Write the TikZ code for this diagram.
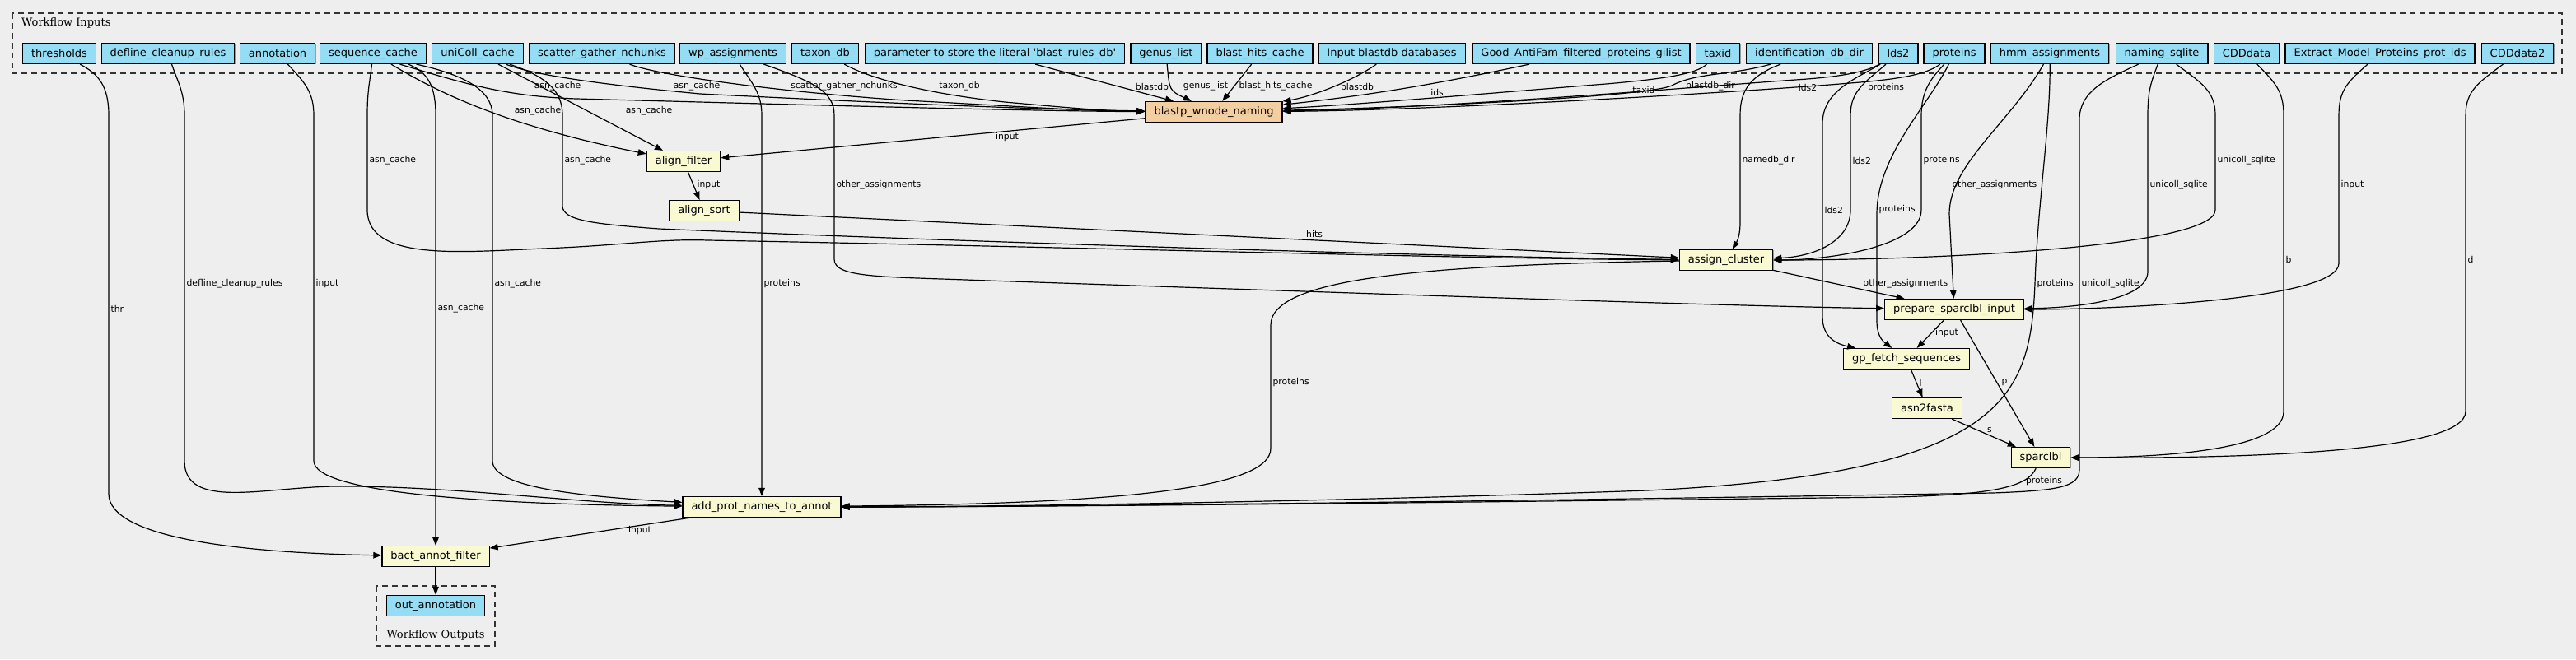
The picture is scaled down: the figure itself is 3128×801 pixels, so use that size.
\documentclass[tikz,border=0pt]{standalone}
\usepackage{fontspec}
\setmainfont{DejaVu Sans}
\newfontfamily\clusterfont{DejaVu Serif}
\usetikzlibrary{arrows.meta,shadows}

\definecolor{inputblue}{HTML}{94DDF4}
\definecolor{stepyellow}{HTML}{FAFAD2}
\definecolor{subworkflow}{HTML}{F3CEA1}
\definecolor{canvas}{HTML}{EEEEEE}

\tikzset{
  box/.style={draw, line width=1.2pt, minimum height=25pt, inner xsep=10.5pt, inner ysep=2pt,
    font=\fontsize{13}{15}\selectfont,
    drop shadow={shadow xshift=0.9pt, shadow yshift=-0.9pt, fill=black!40, opacity=1}},
  inp/.style={box, fill=inputblue},
  stp/.style={box, fill=stepyellow},
  sub/.style={box, fill=subworkflow},
  edge/.style={line width=1.2pt, -{Triangle[length=10pt,width=7.5pt]}},
  lbl/.style={font=\fontsize{10.8}{12}\selectfont, inner sep=1pt},
  lblw/.style={lbl, anchor=west},
  cluster/.style={draw=black!80, line width=1.2pt, dash pattern=on 7pt off 5pt},
  clusterlbl/.style={font=\clusterfont\fontsize{13}{15}\selectfont, inner sep=0pt}
}

\begin{document}
\begin{tikzpicture}[x=1pt, y=1pt]
  \fill[canvas] (0,0) rectangle (3128,-801);
  \useasboundingbox (0,0) rectangle (3128,-801);

  % clusters
  \draw[cluster] (15,-16) rectangle (3111,-89);
  \node[clusterlbl, anchor=west] (inlbl) at (26,-28) {Workflow Inputs};
  \draw[cluster] (457,-712) rectangle (601,-785);
  \node[clusterlbl] (outlbl) at (529,-772) {Workflow Outputs};

  % workflow inputs
  \node[inp] (thr) at (72,-65) {thresholds};
  \node[inp] (defl) at (204,-65) {defline\_cleanup\_rules};
  \node[inp] (annot) at (337,-65) {annotation};
  \node[inp] (seqc) at (453,-65) {sequence\_cache};
  \node[inp] (ucoll) at (580,-65) {uniColl\_cache};
  \node[inp] (sgn) at (731,-65) {scatter\_gather\_nchunks};
  \node[inp] (wpa) at (890,-65) {wp\_assignments};
  \node[inp] (taxdb) at (1002,-65) {taxon\_db};
  \node[inp] (prm) at (1208,-65) {parameter to store the literal \textquotesingle blast\_rules\_db\textquotesingle};
  \node[inp] (genus) at (1416,-65) {genus\_list};
  \node[inp] (bhc) at (1530,-65) {blast\_hits\_cache};
  \node[inp] (ibd) at (1690,-65) {Input blastdb databases};
  \node[inp] (goodaf) at (1920,-65) {Good\_AntiFam\_filtered\_proteins\_gilist};
  \node[inp] (taxid) at (2086,-65) {taxid};
  \node[inp] (iddb) at (2197,-65) {identification\_db\_dir};
  \node[inp] (lds) at (2305,-65) {lds2};
  \node[inp] (prot) at (2373,-65) {proteins};
  \node[inp] (hmm) at (2489,-65) {hmm\_assignments};
  \node[inp] (nsql) at (2625,-65) {naming\_sqlite};
  \node[inp] (cdd) at (2728,-65) {CDDdata};
  \node[inp] (emp) at (2890,-65) {Extract\_Model\_Proteins\_prot\_ids};
  \node[inp] (cdd2) at (3057,-65) {CDDdata2};

  % steps
  \node[sub] (blastp) at (1474,-136) {blastp\_wnode\_naming};
  \node[stp] (afilt) at (830,-196) {align\_filter};
  \node[stp] (asort) at (855,-256) {align\_sort};
  \node[stp] (acl) at (2096,-316) {assign\_cluster};
  \node[stp] (prep) at (2373,-376) {prepare\_sparclbl\_input};
  \node[stp] (gpf) at (2315,-436) {gp\_fetch\_sequences};
  \node[stp] (a2f) at (2340,-496) {asn2fasta};
  \node[stp] (spl) at (2478,-556) {sparclbl};
  \node[stp] (apn) at (925,-616) {add\_prot\_names\_to\_annot};
  \node[stp] (baf) at (529,-676) {bact\_annot\_filter};

  % workflow output
  \node[inp] (outann) at (529,-736) {out\_annotation};

  % into blastp_wnode_naming
  \draw[edge] (seqc.-22) .. controls (560,-100) and (610,-117) .. (700,-120) .. controls (1000,-128) and (1250,-135) .. (blastp) node[lbl] at (677,-105) {asn\_cache};
  \draw[edge] (ucoll) .. controls (640,-88) and (700,-100) .. (850,-114) .. controls (1050,-124) and (1250,-133) .. (blastp) node[lbl] at (846,-105) {asn\_cache};
  \draw[edge] (sgn) .. controls (800,-92) and (950,-112) .. (1100,-122) .. controls (1250,-130) and (1320,-135) .. (blastp) node[lbl] at (1025,-105) {scatter\_gather\_nchunks};
  \draw[edge] (taxdb) .. controls (1050,-92) and (1110,-112) .. (1220,-124) .. controls (1300,-131) and (1340,-135) .. (blastp) node[lbl] at (1165,-105) {taxon\_db};
  \draw[edge] (prm) -- (blastp) node[lbl] at (1399,-105) {blastdb};
  \draw[edge] (genus) .. controls (1420,-110) .. (blastp) node[lbl] at (1464,-105) {genus\_list};
  \draw[edge] (bhc) -- (blastp) node[lblw] at (1503,-105) {blast\_hits\_cache};
  \draw[edge] (ibd) .. controls (1640,-100) and (1590,-118) .. (blastp) node[lbl] at (1648,-105) {blastdb};
  \draw[edge] (goodaf) .. controls (1800,-90) and (1700,-112) .. (blastp) node[lbl] at (1745,-112) {ids};
  \draw[edge] (taxid) .. controls (2060,-90) and (2020,-96) .. (1950,-102) .. controls (1800,-114) and (1650,-127) .. (blastp) node[lbl] at (1996,-109) {taxid};
  \draw[edge] (iddb) .. controls (2100,-92) and (2060,-88) .. (2030,-104) .. controls (2000,-118) and (1700,-131) .. (blastp) node[lbl] at (2077,-105) {blastdb\_dir};
  \draw[edge] (lds) .. controls (2265,-88) and (2230,-94) .. (2180,-97) .. controls (2080,-104) and (1750,-132) .. (blastp) node[lbl] at (2195,-106) {lds2};
  \draw[edge] (prot) .. controls (2340,-90) and (2310,-95) .. (2270,-99) .. controls (2150,-110) and (1750,-134) .. (blastp) node[lbl] at (2290,-107) {proteins};

  % sequence_cache and uniColl_cache
  \draw[edge] (seqc) .. controls (520,-105) and (600,-150) .. (afilt) node[lbl] at (653,-135) {asn\_cache};
  \draw[edge] (ucoll) -- (afilt) node[lbl] at (788,-135) {asn\_cache};
  \draw[edge] (seqc) .. controls (449,-100) and (446,-110) .. (446,-140) -- (446,-255) .. controls (446,-318) and (560,-306) .. (660,-302) .. controls (760,-298) and (800,-290) .. (860,-292) .. controls (1300,-300) and (1800,-315) .. (acl) node[lblw] at (447,-195) {asn\_cache};
  \draw[edge] (ucoll) .. controls (660,-92) and (683,-108) .. (683,-140) -- (683,-250) .. controls (683,-268) and (720,-272) .. (800,-278) .. controls (1200,-295) and (1750,-312) .. (acl) node[lblw] at (684,-195) {asn\_cache};
  \draw[edge] (seqc.-17) .. controls (520,-88) and (529,-105) .. (529,-140) -- (baf) node[lblw] at (530,-375) {asn\_cache};
  \draw[edge] (seqc.-14) .. controls (560,-90) and (598,-108) .. (598,-140) -- (598,-560) .. controls (598,-592) and (700,-603) .. (apn) node[lblw] at (599,-345) {asn\_cache};

  % left inputs
  \draw[edge] (thr) .. controls (120,-90) and (132,-105) .. (132,-140) -- (132,-600) .. controls (132,-655) and (300,-672) .. (baf) node[lblw] at (133,-375) {thr};
  \draw[edge] (defl) .. controls (216,-100) and (224,-112) .. (224,-140) -- (224,-560) .. controls (224,-620) and (320,-592) .. (407,-591) .. controls (550,-590) and (700,-612) .. (apn) node[lblw] at (225,-345) {defline\_cleanup\_rules};
  \draw[edge] (annot) .. controls (370,-100) and (381,-112) .. (381,-140) -- (381,-560) .. controls (381,-600) and (600,-613) .. (apn) node[lblw] at (382,-345) {input};
  \draw[edge] (wpa) .. controls (912,-100) and (925,-112) .. (925,-140) -- (apn) node[lblw] at (926,-345) {proteins};
  \draw[edge] (wpa) .. controls (990,-100) and (1013,-112) .. (1013,-140) -- (1013,-315) .. controls (1013,-338) and (1070,-336) .. (1200,-341) .. controls (1700,-358) and (2100,-372) .. (prep) node[lblw] at (1014,-225) {other\_assignments};

  % right inputs
  \draw[edge] (iddb) .. controls (2125,-92) and (2113,-110) .. (2113,-140) -- (2113,-270) .. controls (2113,-285) and (2110,-292) .. (acl) node[lblw] at (2114,-195) {namedb\_dir};
  \draw[edge] (lds) .. controls (2265,-100) and (2247,-110) .. (2247,-140) -- (2247,-255) .. controls (2247,-295) and (2200,-312) .. (acl) node[lblw] at (2248,-195) {lds2};
  \draw[edge] (lds) .. controls (2255,-95) and (2213,-110) .. (2213,-150) -- (2213,-385) .. controls (2213,-410) and (2230,-418) .. (gpf) node[lblw] at (2214,-255) {lds2};
  \draw[edge] (prot) .. controls (2345,-95) and (2333,-110) .. (2333,-140) -- (2333,-255) .. controls (2333,-300) and (2220,-316) .. (acl) node[lblw] at (2334,-195) {proteins};
  \draw[edge] (prot) .. controls (2340,-130) and (2279,-190) .. (2279,-260) -- (2279,-390) .. controls (2279,-410) and (2288,-416) .. (gpf) node[lblw] at (2280,-255) {proteins};
  \draw[edge] (hmm) .. controls (2440,-150) and (2367,-200) .. (2367,-260) -- (prep) node[lblw] at (2369,-225) {other\_assignments};
  \draw[edge] (hmm) .. controls (2490,-150) and (2474,-250) .. (2471,-345) .. controls (2465,-480) and (2440,-575) .. (2000,-596) .. controls (1600,-610) and (1200,-616) .. (apn) node[lblw] at (2472,-345) {proteins};
  \draw[edge] (nsql) .. controls (2672,-100) and (2690,-110) .. (2690,-140) -- (2690,-255) .. controls (2690,-300) and (2350,-316) .. (acl) node[lblw] at (2691,-195) {unicoll\_sqlite};
  \draw[edge] (nsql) .. controls (2612,-100) and (2608,-110) .. (2608,-140) -- (2608,-330) .. controls (2608,-365) and (2520,-374) .. (prep) node[lblw] at (2609,-225) {unicoll\_sqlite};
  \draw[edge] (nsql) .. controls (2560,-95) and (2525,-110) .. (2525,-145) -- (2525,-570) .. controls (2525,-592) and (2500,-596) .. (2420,-599) .. controls (1900,-608) and (1300,-616) .. (apn) node[lblw] at (2526,-345) {unicoll\_sqlite};
  \draw[edge] (cdd) .. controls (2762,-100) and (2773,-110) .. (2773,-140) -- (2773,-500) .. controls (2773,-548) and (2620,-556) .. (spl) node[lblw] at (2774,-315) {b};
  \draw[edge] (emp) .. controls (2850,-100) and (2840,-110) .. (2840,-140) -- (2840,-320) .. controls (2840,-365) and (2560,-376) .. (prep) node[lblw] at (2841,-225) {input};
  \draw[edge] (cdd2) .. controls (3010,-100) and (2994,-110) .. (2994,-140) -- (2994,-500) .. controls (2994,-552) and (2700,-557) .. (spl) node[lblw] at (2995,-315) {d};

  % between steps
  \draw[edge] (blastp) -- (afilt) node[lbl] at (1223,-167) {input};
  \draw[edge] (afilt) -- (asort) node[lblw] at (845,-225) {input};
  \draw[edge] (asort) -- (acl) node[lbl] at (1596,-284) {hits};
  \draw[edge] (acl) -- (prep) node[lbl] at (2314,-345) {other\_assignments};
  \draw[edge] (acl) .. controls (1750,-322) and (1543,-335) .. (1543,-395) -- (1543,-545) .. controls (1543,-595) and (1350,-612) .. (apn) node[lblw] at (1544,-465) {proteins};
  \draw[edge] (prep) -- (gpf) node[lbl] at (2364,-405) {input};
  \draw[edge] (prep) -- (spl) node[lbl] at (2434,-465) {p};
  \draw[edge] (gpf) -- (a2f) node[lbl] at (2332,-465) {l};
  \draw[edge] (a2f) -- (spl) node[lbl] at (2416,-523) {s};
  \draw[edge] (spl) .. controls (2462,-592) and (2420,-601) .. (2300,-604) .. controls (1800,-610) and (1300,-616) .. (apn) node[lbl] at (2482,-585) {proteins};
  \draw[edge] (apn) -- (baf) node[lbl] at (777,-645) {input};
  \draw[edge] (baf) -- (outann);
\end{tikzpicture}
\end{document}
